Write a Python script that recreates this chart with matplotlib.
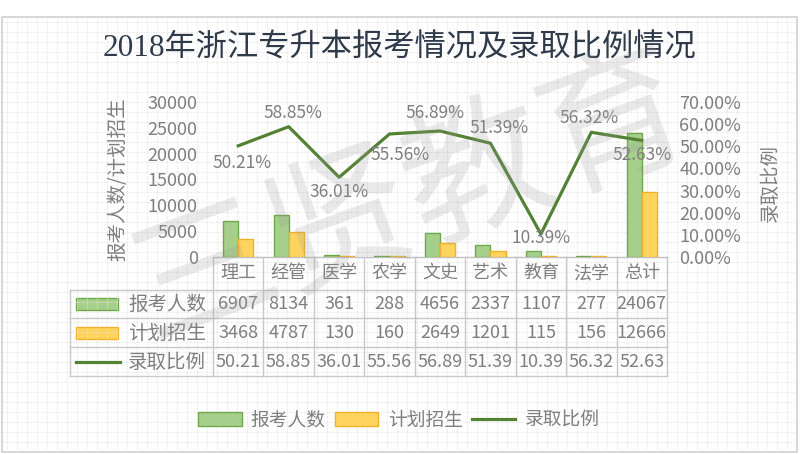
import matplotlib
matplotlib.use("Agg")
import matplotlib.pyplot as plt
import matplotlib.transforms as mtransforms
from matplotlib.patches import Rectangle, Patch
from matplotlib.lines import Line2D
import numpy as np

plt.rcParams['font.family'] = ['Noto Sans CJK SC', 'DejaVu Sans']

# data
categories = ['理工', '经管', '医学', '农学', '文史', '艺术', '教育', '法学', '总计']
applicants = [6907, 8134, 361, 288, 4656, 2337, 1107, 277, 24067]
plan = [3468, 4787, 130, 160, 2649, 1201, 115, 156, 12666]
ratio = [50.21, 58.85, 36.01, 55.56, 56.89, 51.39, 10.39, 56.32, 52.63]
left_ticks = [0, 5000, 10000, 15000, 20000, 25000, 30000]
right_ticks = [0, 10, 20, 30, 40, 50, 60, 70]
series_names = ['报考人数', '计划招生', '录取比例']
title = '2018年浙江专升本报考情况及录取比例情况'

# label nudges (pixels) so they sit like the original
label_off = [(4, -17), (4, 14), (0, -15), (10, -21), (-5, 18),
             (9, 15), (0, -4), (-2, 14), (0, -15)]

GREEN = '#a6cf8c'
GREEN_E = '#6ea84a'
YELLOW = '#ffd45e'
YELLOW_E = '#f2b12a'
LINE = '#548235'
GREY = '#7f7f7f'
GRID = '#e2e2e2'

W, H = 800, 454
fig = plt.figure(figsize=(8, 4.54), dpi=100)

# background layer in pixel coordinates
bg = fig.add_axes([0, 0, 1, 1], zorder=0)
bg.set_xlim(0, W)
bg.set_ylim(H, 0)
bg.axis('off')

for gx in range(7, 797, 10):
    bg.plot([gx, gx], [18, 451], color=GRID, lw=0.6, ls=(0, (1.5, 1.5)))
for gy in range(22, 452, 10):
    bg.plot([3, 796], [gy, gy], color=GRID, lw=0.6, ls=(0, (1.5, 1.5)))
bg.add_patch(Rectangle((2, 17), 795, 435, fill=False, ec='#d0d0d0', lw=1.2))

# main chart
ax = fig.add_axes([213 / W, 1 - 257 / H, 454 / W, 155 / H], zorder=2)
ax.patch.set_visible(False)
x = np.arange(len(categories))
bw = 0.3
ax.bar(x - bw / 2, applicants, bw, color=GREEN, edgecolor=GREEN_E, lw=1)
ax.bar(x + bw / 2, plan, bw, color=YELLOW, edgecolor=YELLOW_E, lw=1)
ax.set_xlim(-0.5, len(categories) - 0.5)
ax.set_ylim(0, 30000)
ax.set_yticks(left_ticks)
ax.set_yticklabels([str(t) for t in left_ticks])
ax.set_xticks([])
ax.tick_params(axis='y', length=0, pad=11, labelsize=13, labelcolor=GREY)
for s in ax.spines.values():
    s.set_visible(False)

ax2 = ax.twinx()
ax2.set_zorder(3)
ax2.patch.set_visible(False)
r = np.array(ratio) / 100
ax2.plot(x, r, color=LINE, lw=2.3)
ax2.set_ylim(0, 0.7)
ax2.set_yticks([t / 100 for t in right_ticks])
ax2.set_yticklabels(['%.2f%%' % t for t in right_ticks])
ax2.tick_params(axis='y', length=0, pad=9, labelsize=13, labelcolor=GREY)
for s in ax2.spines.values():
    s.set_visible(False)
for xi, ri, v, off in zip(x, r, ratio, label_off):
    ax2.annotate('%.2f%%' % v, (xi, ri), xytext=off, textcoords='offset pixels',
                 ha='center', va='center', fontsize=12.5, color=GREY)

fig.text(400 / W, 1 - 49 / H, title, ha='center', va='center', fontsize=22.5,
         color='#2f3b4b', family=['Liberation Serif', 'Noto Sans CJK SC'])
fig.text(118 / W, 1 - 179 / H, '报考人数/计划招生', rotation=90, ha='center',
         va='center', fontsize=14, color=GREY)
fig.text(770 / W, 1 - 183 / H, '录取比例', rotation=90, ha='center',
         va='center', fontsize=14, color=GREY)

# data table under the plot
tr = mtransforms.blended_transform_factory(ax.transData, bg.transData)
tcol = '#c8c8c8'
bg.plot([213, 667], [257, 257], color='#bfbfbf', lw=1)
for yy in [290, 318, 347, 376]:
    bg.plot([70, 667], [yy, yy], color=tcol, lw=1)
bg.plot([70, 70], [290, 376], color=tcol, lw=1)
for k in range(len(categories) + 1):
    bg.plot([k - 0.5, k - 0.5], [257, 376], color=tcol, lw=1, transform=tr)

rows_y = [304, 333, 362]
for i, c in enumerate(categories):
    bg.text(i, 273, c, transform=tr, ha='center', va='center', fontsize=13, color=GREY)
    bg.text(i, rows_y[0], str(applicants[i]), transform=tr, ha='center', va='center',
            fontsize=13, color=GREY)
    bg.text(i, rows_y[1], str(plan[i]), transform=tr, ha='center', va='center',
            fontsize=13, color=GREY)
    bg.text(i, rows_y[2], '%.2f' % ratio[i], transform=tr, ha='center', va='center',
            fontsize=13, color=GREY)

bg.add_patch(Rectangle((76, rows_y[0] - 6), 42, 12, fc=GREEN, ec=GREEN_E, lw=1))
bg.add_patch(Rectangle((76, rows_y[1] - 6), 42, 12, fc=YELLOW, ec=YELLOW_E, lw=1))
bg.plot([76, 120], [rows_y[2], rows_y[2]], color=LINE, lw=2.3)
for yy, name in zip(rows_y, series_names):
    bg.text(128, yy, name, ha='left', va='center', fontsize=14, color=GREY)

# bottom legend
handles = [Patch(fc=GREEN, ec=GREEN_E), Patch(fc=YELLOW, ec=YELLOW_E),
           Line2D([], [], color=LINE, lw=2.3)]
leg = fig.legend(handles, series_names, loc='center', ncol=3,
                 bbox_to_anchor=(399 / W, 1 - 420 / H), frameon=False,
                 fontsize=13.5, handlelength=2.3, handletextpad=0.5,
                 columnspacing=0.5)
for t in leg.get_texts():
    t.set_color(GREY)

# faint watermark
fig.text(410 / W, 1 - 200 / H, '三贤教育', rotation=20, ha='center', va='center',
         fontsize=105, color='#9a9a9a', alpha=0.22, zorder=10)

fig.savefig('out.png', dpi=100)
